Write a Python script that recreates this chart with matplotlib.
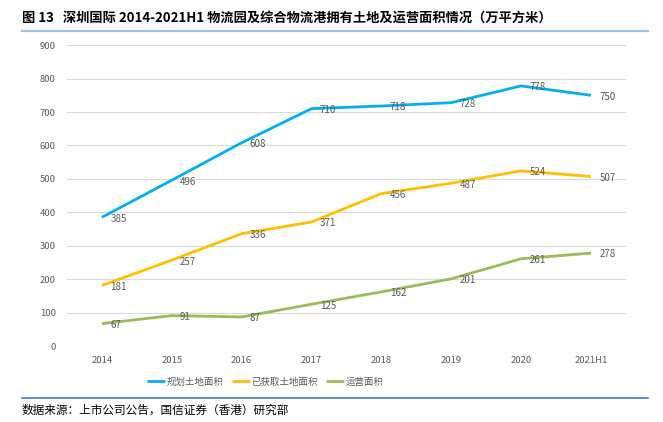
import matplotlib.pyplot as plt
from matplotlib.lines import Line2D

plt.rcParams['font.family'] = ['Noto Sans CJK SC', 'DejaVu Sans']

# 数据
years    = ['2014', '2015', '2016', '2017', '2018', '2019', '2020', '2021H1']
planned  = [385, 496, 608, 710, 718, 728, 778, 750]
acquired = [181, 257, 336, 371, 456, 487, 524, 507]
operated = [67, 91, 87, 125, 162, 201, 261, 278]

series = [
    (planned,  '规划土地面积',   '#00B0F0'),
    (acquired, '已获取土地面积', '#FFC000'),
    (operated, '运营面积',       '#9BBB59'),
]

fig = plt.figure(figsize=(6.63, 4.22), dpi=100)
ax = fig.add_axes([0.101, 0.180, 0.843, 0.713])

x = range(len(years))
for vals, name, color in series:
    ax.plot(x, vals, color=color, lw=2.0, label=name, solid_capstyle='butt')
    for xi, v in zip(x, vals):
        ax.annotate(str(v), (xi, v), xytext=(6, -1), textcoords='offset points',
                    ha='left', va='center', fontsize=7, color='#595959')

ax.set_xlim(-0.5, len(years) - 0.5)
ax.set_ylim(0, 900)
ax.set_yticks(range(0, 901, 100))
ax.set_xticks(list(x))
ax.set_xticklabels(years)
ax.grid(axis='y', color='#D9D9D9', lw=0.8)
ax.set_axisbelow(True)
for s in ax.spines.values():
    s.set_visible(False)
ax.tick_params(length=0, labelsize=6.8, labelcolor='#595959')
ax.tick_params(axis='y', pad=8)
ax.tick_params(axis='x', pad=7)

fig.legend(loc='center', bbox_to_anchor=(0.40, 0.095), ncol=3, frameon=False,
           fontsize=6.8, labelcolor='#595959', handlelength=1.9,
           handletextpad=0.15, columnspacing=0.9)

# 标题与来源
fig.text(0.033, 0.957, '图 13   深圳国际 2014-2021H1 物流园及综合物流港拥有土地及运营面积情况（万平方米）',
         fontsize=9.5, fontweight='bold', ha='left', va='center', color='#000000')
fig.add_artist(Line2D([0.033, 0.977], [1 - 31 / 422] * 2, color='#9DC3E6', lw=1.6))
fig.add_artist(Line2D([0.033, 0.977], [1 - 398 / 422] * 2, color='#2E75B6', lw=1.1))
fig.text(0.033, 1 - 410 / 422, '数据来源：上市公司公告，国信证券（香港）研究部',
         fontsize=8.4, ha='left', va='center', color='#000000')

fig.savefig('out.png', dpi=100)
